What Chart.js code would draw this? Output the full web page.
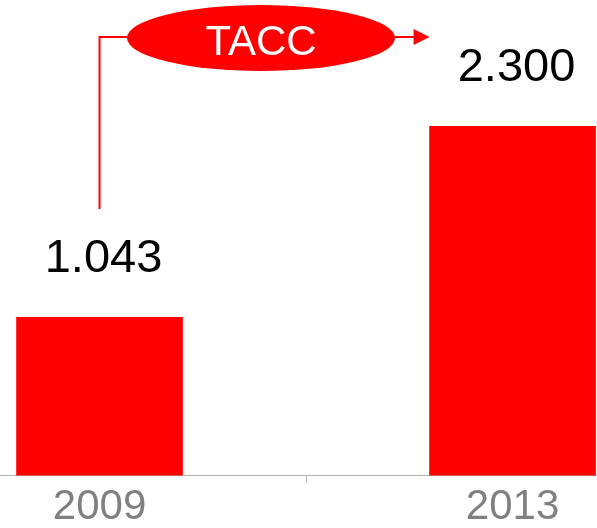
<!DOCTYPE html>
<html>
<head>
<meta charset="utf-8">
<script src="https://cdn.jsdelivr.net/npm/chart.js@4/dist/chart.umd.min.js"></script>
<style>
  body { margin: 0; background: #fff; }
  #wrap { width: 597px; height: 528px; position: relative; }
</style>
</head>
<body>
<div id="wrap"><canvas id="c"></canvas></div>
<script>
const years = ['2009', '2013'];
const values = [1043, 2300];
const valueLabels = ['1.043', '2.300'];
const badgeText = 'TACC';

// etiquetas de valor + la elipse TACC con su flecha
const tacc = {
  id: 'tacc',
  afterDatasetsDraw(chart) {
    const ctx = chart.ctx;
    const bars = chart.getDatasetMeta(0).data;
    ctx.save();

    ctx.fillStyle = '#000';
    ctx.font = '47px "Liberation Sans", Arial, sans-serif';
    ctx.textAlign = 'center';
    ctx.textBaseline = 'alphabetic';
    bars.forEach((b, i) => {
      ctx.fillText(valueLabels[i], b.x + 4, b.y - 45);
    });

    const lineY = 37;
    const ex = 261, ey = 38, rx = 134, ry = 33;
    const b1 = bars[0], b2 = bars[1];
    const tipX = b2.x - b2.width / 2;

    ctx.strokeStyle = '#ff0000';
    ctx.lineWidth = 2;
    ctx.beginPath();
    ctx.moveTo(b1.x, 209);
    ctx.lineTo(b1.x, lineY);
    ctx.lineTo(ex - rx, lineY);
    ctx.moveTo(ex + rx, lineY);
    ctx.lineTo(tipX - 15, lineY);
    ctx.stroke();

    ctx.fillStyle = '#ff0000';
    ctx.beginPath();
    ctx.moveTo(tipX - 16, lineY - 8);
    ctx.lineTo(tipX, lineY);
    ctx.lineTo(tipX - 16, lineY + 8);
    ctx.closePath();
    ctx.fill();

    ctx.beginPath();
    ctx.ellipse(ex, ey, rx, ry, 0, 0, Math.PI * 2);
    ctx.fill();

    ctx.fillStyle = '#fff';
    ctx.font = '42px "Liberation Sans", Arial, sans-serif';
    ctx.textBaseline = 'alphabetic';
    ctx.fillText(badgeText, ex, 55);
    ctx.restore();
  }
};

new Chart(document.getElementById('c'), {
  type: 'bar',
  data: {
    datasets: [{
      data: values.map((v, i) => ({ x: i, y: v })),
      backgroundColor: '#ff0000',
      barThickness: 166
    }]
  },
  options: {
    responsive: true,
    maintainAspectRatio: false,
    animation: false,
    layout: { padding: { bottom: -5 } },
    plugins: { legend: { display: false }, tooltip: { enabled: false } },
    scales: {
      x: {
        type: 'linear',
        offset: false,
        min: -0.241,
        max: 1.2045,
        afterBuildTicks: (axis) => {
          axis.ticks = [{ value: 0 }, { value: 0.5 }, { value: 1 }];
        },
        grid: {
          offset: false,
          drawOnChartArea: false,
          tickLength: 7,
          tickColor: (c) => (c.tick && c.tick.value === 0.5 ? '#b3b3b3' : 'rgba(0,0,0,0)')
        },
        border: { color: '#b3b3b3', width: 1 },
        ticks: {
          autoSkip: false,
          maxRotation: 0,
          padding: 0,
          color: '#808080',
          font: { family: '"Liberation Sans", Arial, sans-serif', size: 42 },
          callback: (v) => (Number.isInteger(v) ? years[v] : '')
        }
      },
      y: { display: false, min: 0, max: 3133 }
    }
  },
  plugins: [tacc]
});
</script>
</body>
</html>
